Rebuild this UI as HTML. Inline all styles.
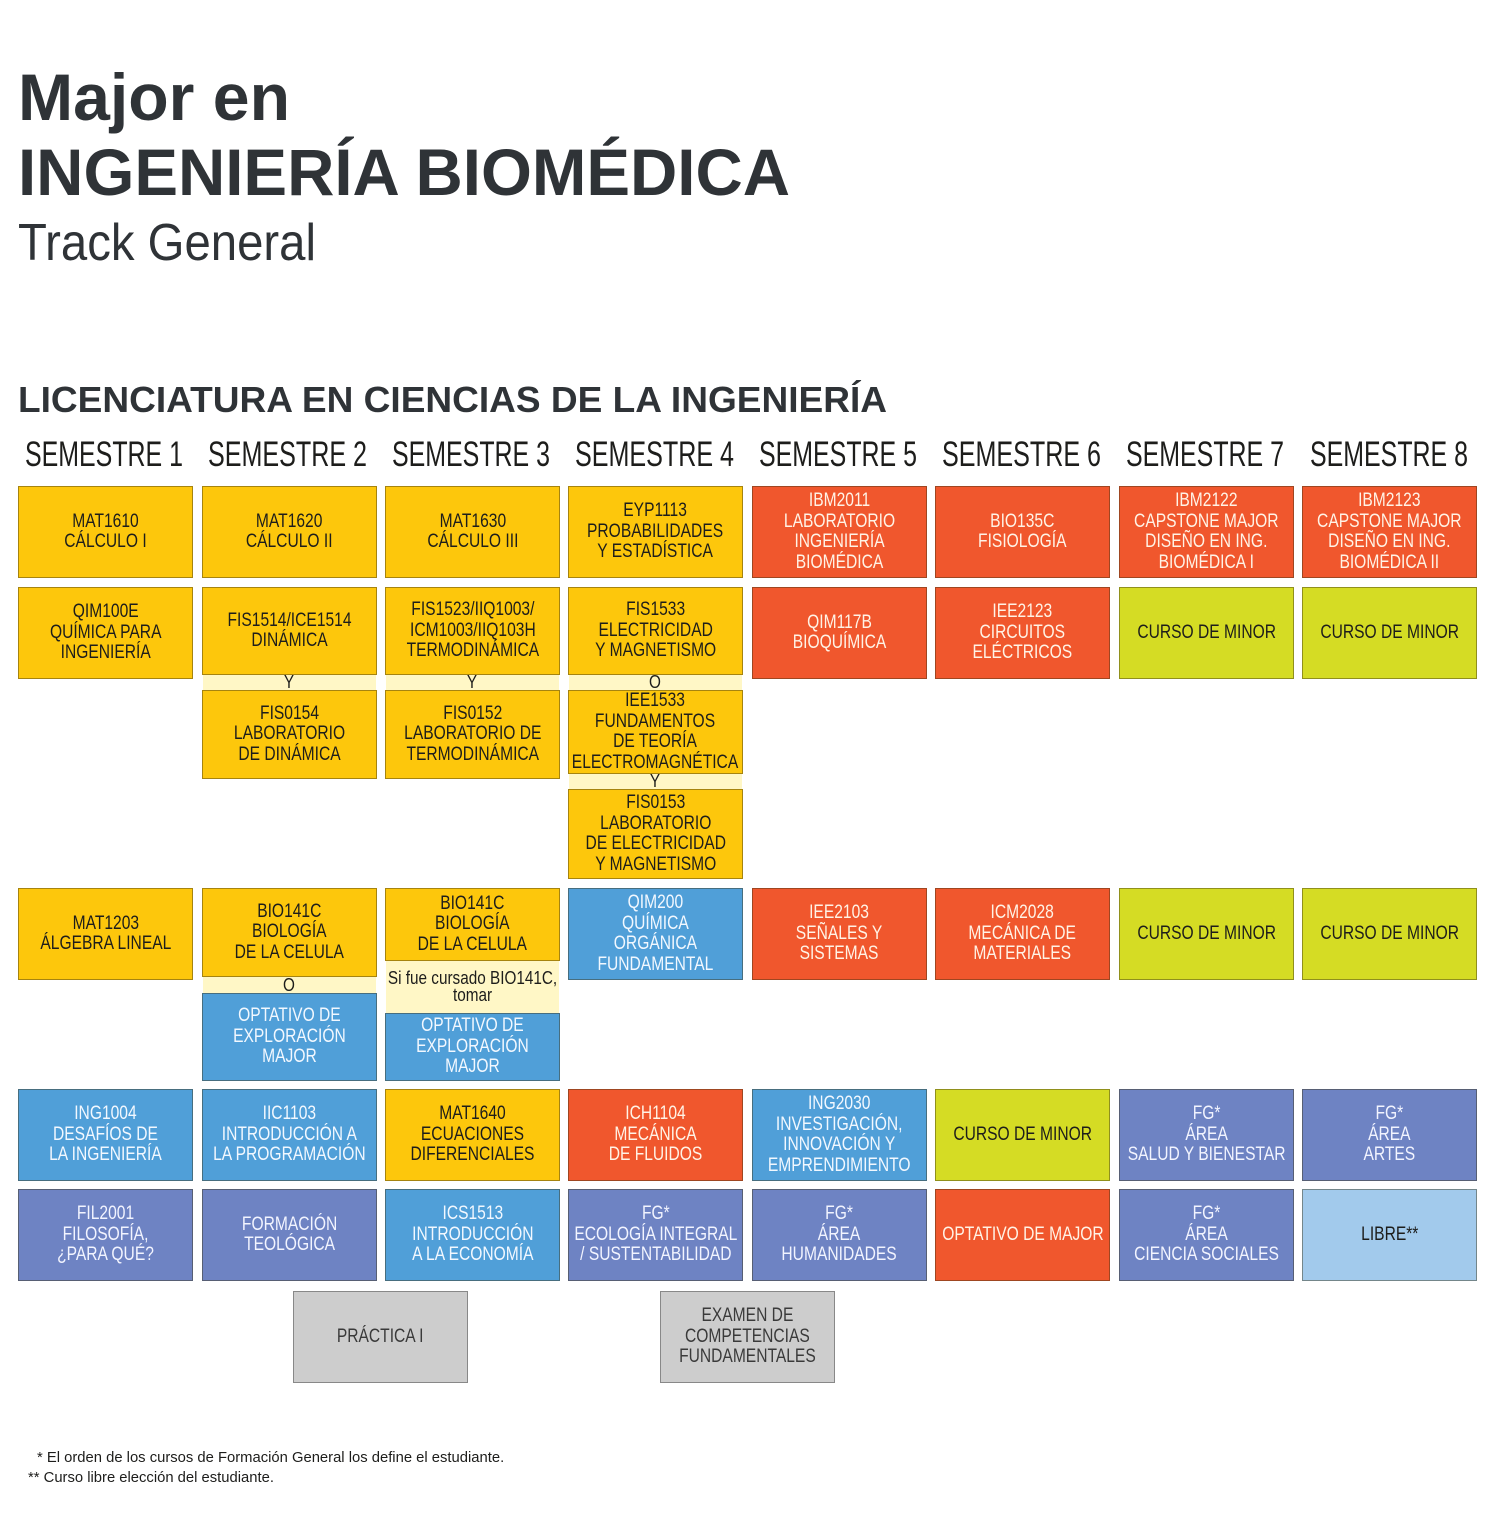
<!DOCTYPE html>
<html><head><meta charset="utf-8">
<style>
html,body{margin:0;padding:0;background:#fff;}
body{width:1495px;height:1536px;position:relative;overflow:hidden;font-family:"Liberation Sans",sans-serif;}
.b{position:absolute;box-sizing:border-box;border:1px solid rgba(60,50,20,0.45);display:flex;align-items:center;justify-content:center;text-align:center;overflow:visible;}
.b span{display:inline-block;transform:scaleX(0.8);white-space:nowrap;font-size:19.5px;line-height:20.5px;margin-top:-2px;}
.y{background:#FDC70C;color:#1d1d1b;}
.r{background:#F0572D;color:#fff3e6;}
.u{background:#509FD8;color:#f2f8ff;}
.l{background:#D5DC24;color:#1d1d1b;}
.p{background:#6E83C3;color:#f2f4ff;}
.lb{background:#A2CAEC;color:#1d1d1b;}
.g{background:#CDCDCD;color:#3a3a3a;}
.c{position:absolute;background:#FFF7C6;color:#1d1d1b;text-align:center;font-size:18px;line-height:17px;}
.c span{display:inline-block;transform:scaleX(0.85);white-space:nowrap;}
.fn{position:absolute;font-size:14.8px;color:#1d1d1b;white-space:nowrap;}
</style></head><body>
<svg width="1495" height="480" style="position:absolute;left:0;top:0" xmlns="http://www.w3.org/2000/svg">
<g fill="#2f3337" font-family="Liberation Sans, sans-serif" font-weight="bold">
<text x="18" y="120" font-size="66" textLength="272" lengthAdjust="spacingAndGlyphs">Major en</text>
<text x="18" y="195" font-size="66" textLength="772" lengthAdjust="spacingAndGlyphs">INGENIERÍA BIOMÉDICA</text>
<text x="18" y="412" font-size="36" textLength="869" lengthAdjust="spacingAndGlyphs">LICENCIATURA EN CIENCIAS DE LA INGENIERÍA</text>
</g>
<text x="18" y="260" font-size="52" fill="#2f3337" font-family="Liberation Sans, sans-serif" textLength="298" lengthAdjust="spacingAndGlyphs">Track General</text>
<g fill="#1d1d1b" font-family="Liberation Sans, sans-serif" font-size="35">
<text x="25" y="466" textLength="158" lengthAdjust="spacingAndGlyphs">SEMESTRE 1</text>
<text x="208" y="466" textLength="159" lengthAdjust="spacingAndGlyphs">SEMESTRE 2</text>
<text x="392" y="466" textLength="158" lengthAdjust="spacingAndGlyphs">SEMESTRE 3</text>
<text x="575" y="466" textLength="159" lengthAdjust="spacingAndGlyphs">SEMESTRE 4</text>
<text x="759" y="466" textLength="158" lengthAdjust="spacingAndGlyphs">SEMESTRE 5</text>
<text x="942" y="466" textLength="159" lengthAdjust="spacingAndGlyphs">SEMESTRE 6</text>
<text x="1126" y="466" textLength="158" lengthAdjust="spacingAndGlyphs">SEMESTRE 7</text>
<text x="1310" y="466" textLength="158" lengthAdjust="spacingAndGlyphs">SEMESTRE 8</text>
</g>
</svg>
<div id="root"></div>
<div class="fn" style="left:37px;top:1450px;">* El orden de los cursos de Formación General los define el estudiante.</div>
<div class="fn" style="left:28px;top:1470px;">** Curso libre elección del estudiante.</div>
<script>
var X=[18,202,385,568,752,935,1119,1302],W=175;
var boxes=[
[0,486,578,'y','MAT1610<br>CÁLCULO I'],
[1,486,578,'y','MAT1620<br>CÁLCULO II'],
[2,486,578,'y','MAT1630<br>CÁLCULO III'],
[3,486,578,'y','EYP1113<br>PROBABILIDADES<br>Y ESTADÍSTICA'],
[4,486,578,'r','IBM2011<br>LABORATORIO<br>INGENIERÍA<br>BIOMÉDICA'],
[5,486,578,'r','BIO135C<br>FISIOLOGÍA'],
[6,486,578,'r','IBM2122<br>CAPSTONE MAJOR<br>DISEÑO EN ING.<br>BIOMÉDICA I'],
[7,486,578,'r','IBM2123<br>CAPSTONE MAJOR<br>DISEÑO EN ING.<br>BIOMÉDICA II'],
[0,587,679,'y','QIM100E<br>QUÍMICA PARA<br>INGENIERÍA'],
[1,587,675,'y','FIS1514/ICE1514<br>DINÁMICA'],
[1,690,779,'y','FIS0154<br>LABORATORIO<br>DE DINÁMICA'],
[2,587,675,'y','FIS1523/IIQ1003/<br>ICM1003/IIQ103H<br>TERMODINÁMICA'],
[2,690,779,'y','FIS0152<br>LABORATORIO DE<br>TERMODINÁMICA'],
[3,587,675,'y','FIS1533<br>ELECTRICIDAD<br>Y MAGNETISMO'],
[3,690,774,'y','IEE1533<br>FUNDAMENTOS<br>DE TEORÍA<br>ELECTROMAGNÉTICA'],
[3,789,879,'y','FIS0153<br>LABORATORIO<br>DE ELECTRICIDAD<br>Y MAGNETISMO'],
[4,587,679,'r','QIM117B<br>BIOQUÍMICA'],
[5,587,679,'r','IEE2123<br>CIRCUITOS<br>ELÉCTRICOS'],
[6,587,679,'l','CURSO DE MINOR'],
[7,587,679,'l','CURSO DE MINOR'],
[0,888,980,'y','MAT1203<br>ÁLGEBRA LINEAL'],
[1,888,977,'y','BIO141C<br>BIOLOGÍA<br>DE LA CELULA'],
[1,993,1081,'u','OPTATIVO DE<br>EXPLORACIÓN<br>MAJOR'],
[2,888,961,'y','BIO141C<br>BIOLOGÍA<br>DE LA CELULA'],
[2,1013,1081,'u','OPTATIVO DE<br>EXPLORACIÓN<br>MAJOR'],
[3,888,980,'u','QIM200<br>QUÍMICA<br>ORGÁNICA<br>FUNDAMENTAL'],
[4,888,980,'r','IEE2103<br>SEÑALES Y<br>SISTEMAS'],
[5,888,980,'r','ICM2028<br>MECÁNICA DE<br>MATERIALES'],
[6,888,980,'l','CURSO DE MINOR'],
[7,888,980,'l','CURSO DE MINOR'],
[0,1089,1181,'u','ING1004<br>DESAFÍOS DE<br>LA INGENIERÍA'],
[1,1089,1181,'u','IIC1103<br>INTRODUCCIÓN A<br>LA PROGRAMACIÓN'],
[2,1089,1181,'y','MAT1640<br>ECUACIONES<br>DIFERENCIALES'],
[3,1089,1181,'r','ICH1104<br>MECÁNICA<br>DE FLUIDOS'],
[4,1089,1181,'u','ING2030<br>INVESTIGACIÓN,<br>INNOVACIÓN Y<br>EMPRENDIMIENTO'],
[5,1089,1181,'l','CURSO DE MINOR'],
[6,1089,1181,'p','FG*<br>ÁREA<br>SALUD Y BIENESTAR'],
[7,1089,1181,'p','FG*<br>ÁREA<br>ARTES'],
[0,1189,1281,'p','FIL2001<br>FILOSOFÍA,<br>¿PARA QUÉ?'],
[1,1189,1281,'p','FORMACIÓN<br>TEOLÓGICA'],
[2,1189,1281,'u','ICS1513<br>INTRODUCCIÓN<br>A LA ECONOMÍA'],
[3,1189,1281,'p','FG*<br>ECOLOGÍA INTEGRAL<br>/ SUSTENTABILIDAD'],
[4,1189,1281,'p','FG*<br>ÁREA<br>HUMANIDADES'],
[5,1189,1281,'r','OPTATIVO DE MAJOR'],
[6,1189,1281,'p','FG*<br>ÁREA<br>CIENCIA SOCIALES'],
[7,1189,1281,'lb','LIBRE**']
];
var h='';
boxes.forEach(function(b){
 h+='<div class="b '+b[3]+'" style="left:'+X[b[0]]+'px;top:'+b[1]+'px;width:'+W+'px;height:'+(b[2]-b[1])+'px"><span>'+b[4]+'</span></div>';
});
var creams=[[1,675,690,'Y'],[2,675,690,'Y'],[3,675,690,'O'],[3,774,789,'Y'],[1,977,993,'O'],[2,961,1013,'Si fue cursado BIO141C,<br>tomar']];
creams.forEach(function(c){
 var hh=c[2]-c[1];
 h+='<div class="c" style="left:'+(X[c[0]]+1)+'px;top:'+c[1]+'px;width:'+(W-2)+'px;height:'+hh+'px;display:flex;align-items:center;justify-content:center;"><span>'+c[3]+'</span></div>';
});
h+='<div class="b g" style="left:293px;top:1291px;width:175px;height:92px;border-color:#888"><span>PRÁCTICA I</span></div>';
h+='<div class="b g" style="left:660px;top:1291px;width:175px;height:92px;border-color:#888"><span>EXAMEN DE<br>COMPETENCIAS<br>FUNDAMENTALES</span></div>';
document.getElementById('root').innerHTML=h;
</script>
</body></html>
